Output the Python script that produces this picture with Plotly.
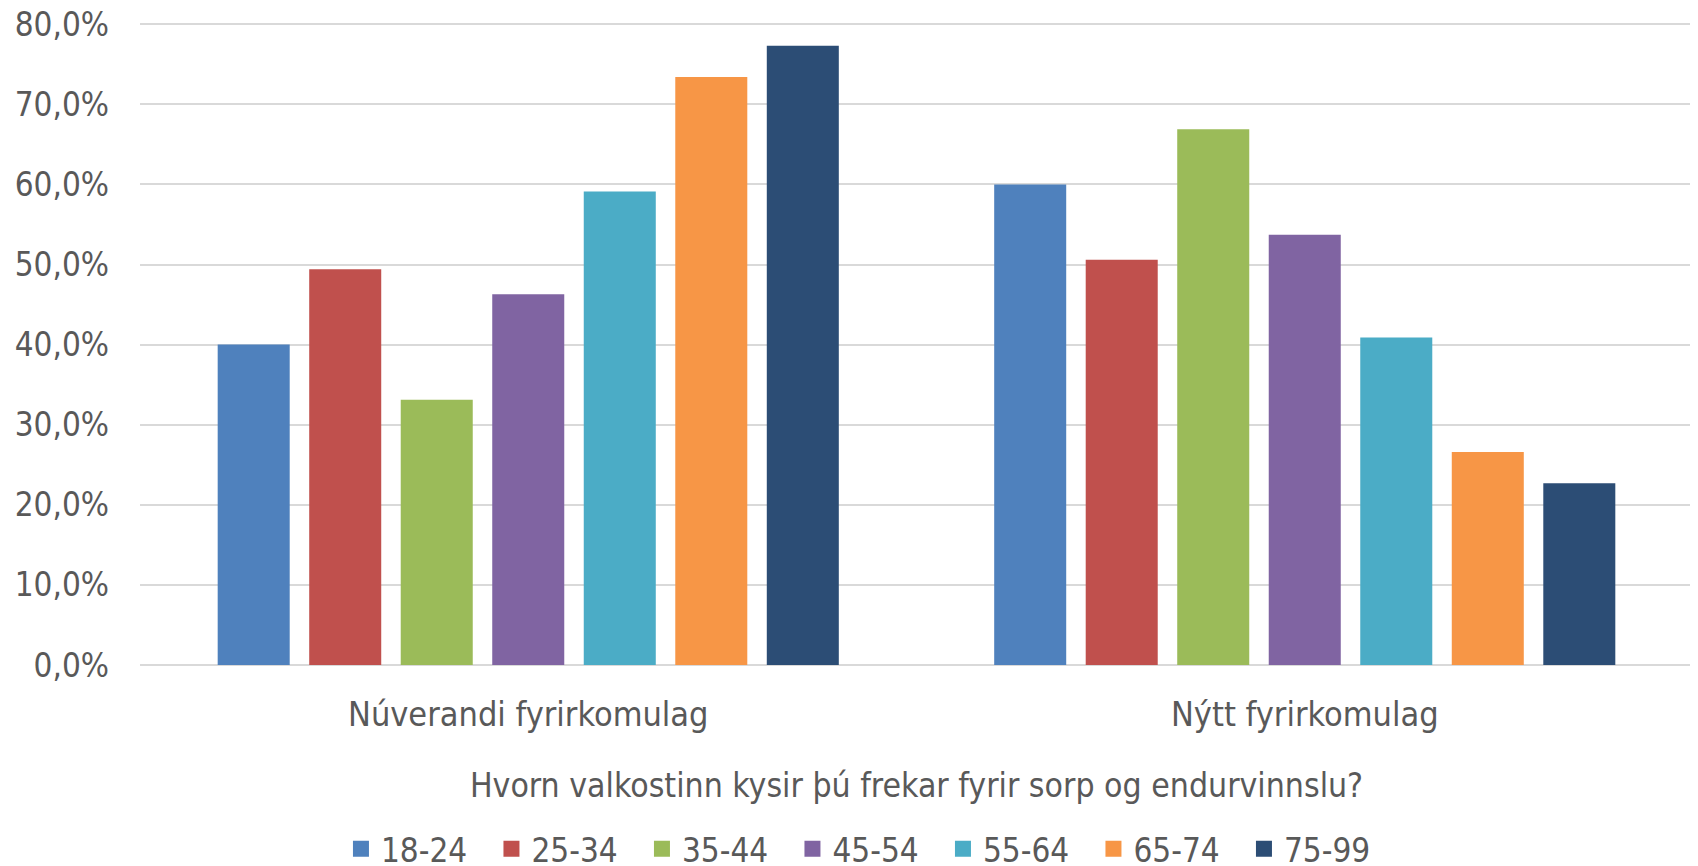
import plotly.graph_objects as go

categories = ["Núverandi fyrirkomulag", "Nýtt fyrirkomulag"]
age_groups = ["18-24", "25-34", "35-44", "45-54", "55-64", "65-74", "75-99"]
current_arrangement = [0.400, 0.494, 0.331, 0.463, 0.591, 0.734, 0.773]
new_arrangement = [0.600, 0.506, 0.669, 0.537, 0.409, 0.266, 0.227]
colors = ["#4F81BD", "#C0504D", "#9BBB59", "#8064A2", "#4BACC6", "#F79646", "#2C4D75"]
y_ticks = [0, 0.1, 0.2, 0.3, 0.4, 0.5, 0.6, 0.7, 0.8]
x_title = "Hvorn valkostinn kysir þú frekar fyrir sorp og endurvinnslu?"

FONT = "Liberation Sans Narrow, DejaVu Sans Condensed, Open Sans, sans-serif"
TXT = "#595959"

fig = go.Figure()
for i, g in enumerate(age_groups):
    fig.add_trace(go.Bar(
        name=g,
        x=categories,
        y=[current_arrangement[i], new_arrangement[i]],
        marker=dict(color=colors[i], line=dict(width=0)),
        showlegend=False,
    ))
# legend proxies with larger square swatches
for i, g in enumerate(age_groups):
    fig.add_trace(go.Scatter(
        name=g, x=[None], y=[None], mode="markers",
        marker=dict(symbol="square", size=20, color=colors[i]),
        showlegend=True,
    ))

fig.update_layout(
    width=1690, height=858,
    margin=dict(l=132, r=5, t=15, b=201, autoexpand=False),
    paper_bgcolor="white", plot_bgcolor="white",
    barmode="group", bargap=0.175, bargroupgap=0.213,
    separators=", ",
    font=dict(family=FONT, color=TXT, size=33),
    showlegend=True,
    legend=dict(orientation="h", x=0.1294, xanchor="left", xref="paper",
                y=-0.2425, yanchor="top", font=dict(size=33, color=TXT),
                entrywidth=105.5, traceorder="normal", itemsizing="trace"),
    xaxis=dict(showgrid=False, showline=False, ticks="", tickfont=dict(size=34, color=TXT),
               ticklabelstandoff=26,
               title=dict(text=x_title, font=dict(size=33.5, color=TXT), standoff=40)),
    yaxis=dict(range=[0, 0.8015], tickvals=y_ticks, tickformat=".1%", showgrid=True,
               gridcolor="#D9D9D9", gridwidth=1.5, zeroline=True, zerolinecolor="#D9D9D9",
               zerolinewidth=1.5, showline=False, ticks="", ticklabelstandoff=30,
               ticklabeloverflow="allow",
               tickfont=dict(size=33, color=TXT)),
)

fig.write_html("out.html")
